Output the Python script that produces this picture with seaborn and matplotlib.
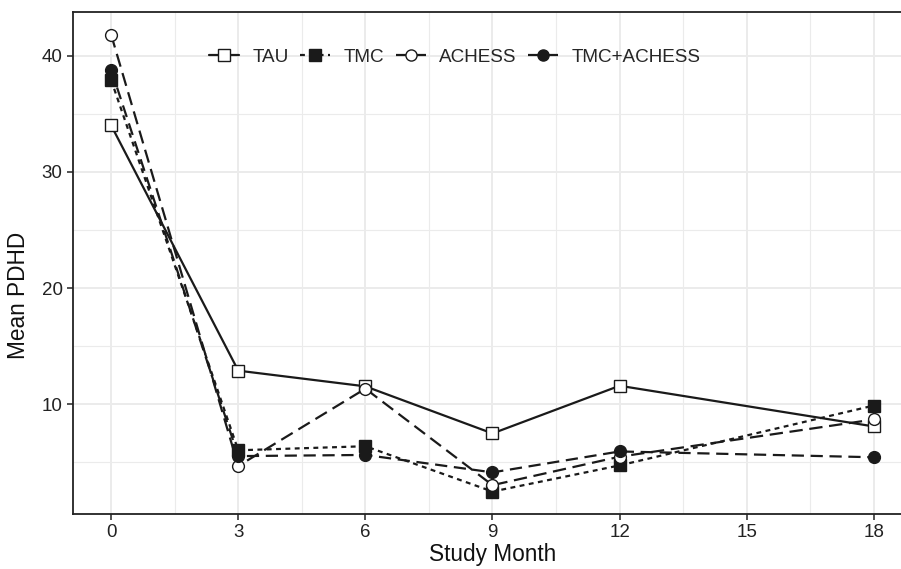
import matplotlib
matplotlib.use("Agg")
import matplotlib.pyplot as plt
import seaborn as sns
import pandas as pd
from matplotlib.lines import Line2D
from matplotlib.ticker import MultipleLocator

months = [0, 3, 6, 9, 12, 18]
tau = [34.0, 12.9, 11.55, 7.5, 11.6, 8.1]
tmc = [37.9, 6.05, 6.4, 2.5, 4.75, 9.9]
achess = [41.8, 4.7, 11.35, 3.05, 5.5, 8.7]
tmc_achess = [38.8, 5.55, 5.65, 4.15, 5.95, 5.45]
groups = ["TAU", "TMC", "ACHESS", "TMC+ACHESS"]
series = [tau, tmc, achess, tmc_achess]
x_ticks = [0, 3, 6, 9, 12, 15, 18]
y_ticks = [10, 20, 30, 40]

rows = []
for g, vals in zip(groups, series):
    for m, v in zip(months, vals):
        rows.append({"Study Month": m, "Mean PDHD": v, "group": g})
df = pd.DataFrame(rows)

sns.set_theme(style="white")
plt.rcParams["font.family"] = ["Liberation Sans", "DejaVu Sans"]

fig = plt.figure(figsize=(9.01, 5.69), dpi=100)
ax = fig.add_axes([73/901, 1-514/569, (912-73)/901, (514-12)/569])

styles = {
    "TAU": dict(marker="s", mfc="white", ls="-"),
    "TMC": dict(marker="s", mfc="#1a1a1a", ls=(0, (2.2, 2.0))),
    "ACHESS": dict(marker="o", mfc="white", ls=(0, (6.0, 3.0))),
    "TMC+ACHESS": dict(marker="o", mfc="#1a1a1a", ls=(0, (5.5, 3.0))),
}
col = "#1a1a1a"
handles = []
for g in groups:
    st = styles[g]
    sub = df[df["group"] == g]
    sns.lineplot(data=sub, x="Study Month", y="Mean PDHD", ax=ax, color=col,
                 linewidth=1.6, linestyle=st["ls"], marker=st["marker"],
                 markersize=8.5, markerfacecolor=st["mfc"], markeredgecolor=col,
                 markeredgewidth=1.0, zorder=3, legend=False)
    handles.append(Line2D([], [], color=col, linewidth=1.6, linestyle=st["ls"],
                          marker=st["marker"], markersize=8, markerfacecolor=st["mfc"],
                          markeredgecolor=col, markeredgewidth=1.0, label=g))

ax.set_xlim(-0.9, 18.9)
ax.set_ylim(0.57, 43.75)
ax.set_xticks(x_ticks)
ax.set_yticks(y_ticks)
ax.xaxis.set_minor_locator(MultipleLocator(1.5))
ax.yaxis.set_minor_locator(MultipleLocator(5))
ax.grid(True, which="major", color="#EBEBEB", linewidth=1.4, zorder=0)
ax.grid(True, which="minor", color="#EBEBEB", linewidth=0.8, zorder=0)
ax.set_axisbelow(True)
for s in ["left", "bottom", "top", "right"]:
    ax.spines[s].set_color("#222222")
    ax.spines[s].set_linewidth(1.3)
ax.tick_params(axis="both", which="major", length=4, width=1.3, color="#444444",
               labelsize=13.5, labelcolor="#222222", direction="out", bottom=True, left=True)
ax.tick_params(axis="both", which="minor", length=0)
ax.set_xlabel("Study Month", fontsize=16.3, color="#111111", labelpad=1)
ax.set_ylabel("Mean PDHD", fontsize=16.3, color="#111111", labelpad=6)
ax.yaxis.set_label_coords(-0.051, (514-295)/502)

leg = ax.legend(handles=handles, ncol=4, loc="center", bbox_to_anchor=(0.455, 0.91),
                frameon=False, fontsize=13.6, handlelength=1.6, handletextpad=0.7,
                columnspacing=0.6)

fig.savefig("out.png", dpi=100)
